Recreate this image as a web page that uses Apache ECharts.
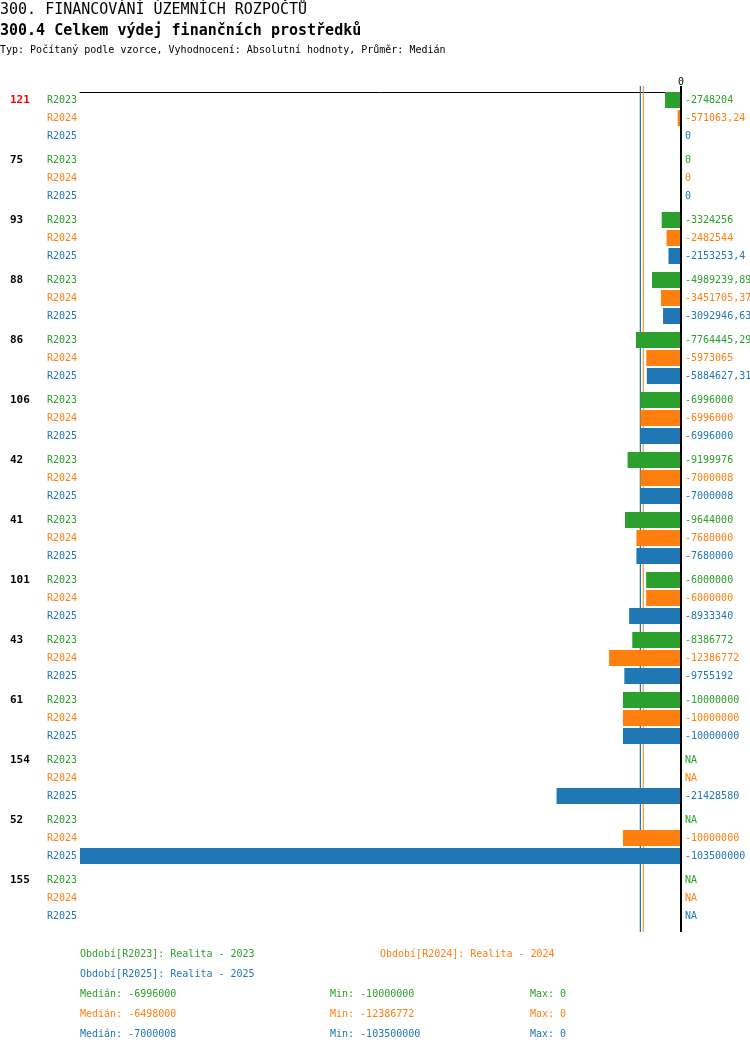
<!DOCTYPE html>
<html lang="cs">
<head>
<meta charset="UTF-8">
<title>300.4 Celkem výdej finančních prostředků</title>
<script src="https://cdn.jsdelivr.net/npm/echarts@6/dist/echarts.min.js"></script>
<style>
  html, body { margin: 0; padding: 0; background: #fff; }
  #chart { width: 750px; height: 1052px; }
</style>
</head>
<body>
<div id="chart"></div>
<script>
// skupiny (ID obce) a hodnoty za jednotlivá období, null = NA
var groupIds = ['121', '75', '93', '88', '86', '106', '42', '41', '101', '43', '61', '154', '52', '155'];
var periods = ['R2023', 'R2024', 'R2025'];
var periodNames = ['Realita - 2023', 'Realita - 2024', 'Realita - 2025'];
var colors = ['#2ca02c', '#ff7f0e', '#1f77b4'];

var r2023 = [-2748204, 0, -3324256, -4989239.89, -7764445.29, -6996000, -9199976, -9644000, -6000000, -8386772, -10000000, null, null, null];
var r2024 = [-571063.24, 0, -2482544, -3451705.37, -5973065, -6996000, -7000008, -7680000, -6000000, -12386772, -10000000, null, -10000000, null];
var r2025 = [0, 0, -2153253.4, -3092946.63, -5884627.31, -6996000, -7000008, -7680000, -8933340, -9755192, -10000000, -21428580, -103500000, null];
var seriesData = [r2023, r2024, r2025];

var xMin = -103500000;
var mono = '"DejaVu Sans Mono", "Liberation Mono", monospace';

function fmt(v) {
    if (v === null) return 'NA';
    return String(v).replace('.', ',');
}

function stats(arr) {
    var v = arr.filter(function(x) { return x !== null; }).sort(function(a, b) { return a - b; });
    var n = v.length;
    var med = n % 2 ? v[(n - 1) / 2] : (v[n / 2 - 1] + v[n / 2]) / 2;
    return { median: med, min: v[0], max: v[n - 1] };
}
var st = seriesData.map(stats);

// svislá čára přes celou výšku grafu
function vline(color, width, z) {
    return {
        type: 'custom',
        silent: true,
        z: z,
        renderItem: function(params, api) {
            var cs = params.coordSys;
            var x = api.coord([api.value(0), 0])[0];
            return {
                type: 'line',
                shape: { x1: x, y1: cs.y - 2, x2: x, y2: cs.y + cs.height + 4 },
                style: { stroke: color, lineWidth: width }
            };
        }
    };
}

var series = [];
// mediány pod sloupci
seriesData.forEach(function(data, k) {
    var s = vline(colors[k], 1, 1);
    s.data = [[st[k].median, 0]];
    series.push(s);
});
// sloupce
seriesData.forEach(function(data, k) {
    series.push({
        type: 'bar',
        name: periods[k],
        data: data,
        barWidth: 16,
        barGap: '12.5%',
        z: 3,
        itemStyle: { color: colors[k] }
    });
});
// nulová osa nad sloupci
var zero = vline('#000', 2, 6);
zero.data = [[0, 0]];
series.push(zero);
// popisky řádků (R2023..) a hodnot
seriesData.forEach(function(data, k) {
    series.push({
        type: 'custom',
        silent: true,
        z: 4,
        data: groupIds.map(function(_, i) { return [0, i]; }),
        renderItem: function(params, api) {
            var g = api.value(1);
            var p = api.coord([0, g]);
            var left = api.coord([xMin, g])[0];
            var y = p[1] + (k - 1) * 18;
            var font = '10px ' + mono;
            return {
                type: 'group',
                children: [{
                    type: 'text',
                    x: left - 33, y: y,
                    style: { text: periods[k], fill: colors[k], font: font, align: 'left', verticalAlign: 'middle' }
                }, {
                    type: 'text',
                    x: p[0] + 4, y: y,
                    style: { text: fmt(data[params.dataIndex]), fill: colors[k], font: font, align: 'left', verticalAlign: 'middle' }
                }]
            };
        }
    });
});

var graphic = [
    { type: 'text', left: 0, top: 3, style: { text: '300. FINANCOVÁNÍ ÚZEMNÍCH ROZPOČTŮ', fill: '#000', font: '15px ' + mono } },
    { type: 'text', left: 0, top: 24, style: { text: '300.4 Celkem výdej finančních prostředků', fill: '#000', font: 'bold 15px ' + mono } },
    { type: 'text', left: 0, top: 45, style: { text: 'Typ: Počítaný podle vzorce, Vyhodnocení: Absolutní hodnoty, Průměr: Medián', fill: '#000', font: '10px ' + mono } }
];
var legendPos = [[80, 954], [380, 954], [80, 974]];
periods.forEach(function(p, k) {
    graphic.push({ type: 'text', x: legendPos[k][0], y: legendPos[k][1],
        style: { text: 'Období[' + p + ']: ' + periodNames[k], fill: colors[k], font: '10px ' + mono, verticalAlign: 'middle' } });
    var y = 994 + k * 20;
    graphic.push({ type: 'text', x: 80, y: y, style: { text: 'Medián: ' + fmt(st[k].median), fill: colors[k], font: '10px ' + mono, verticalAlign: 'middle' } });
    graphic.push({ type: 'text', x: 330, y: y, style: { text: 'Min: ' + fmt(st[k].min), fill: colors[k], font: '10px ' + mono, verticalAlign: 'middle' } });
    graphic.push({ type: 'text', x: 530, y: y, style: { text: 'Max: ' + fmt(st[k].max), fill: colors[k], font: '10px ' + mono, verticalAlign: 'middle' } });
});

var chart = echarts.init(document.getElementById('chart'));
chart.setOption({
    animation: false,
    grid: { left: 80, right: 69, top: 88, height: 840 },
    xAxis: {
        type: 'value',
        position: 'top',
        min: xMin,
        max: 0,
        interval: -xMin,
        offset: -4,
        splitLine: { show: false },
        axisTick: { show: false },
        axisLine: { show: true, lineStyle: { color: '#000', width: 1 } },
        axisLabel: {
            margin: 5,
            color: '#000',
            fontFamily: mono,
            fontSize: 10,
            formatter: function(v) { return v === 0 ? '0' : ''; }
        }
    },
    yAxis: {
        type: 'category',
        data: groupIds,
        inverse: true,
        axisLine: { show: false },
        axisTick: { show: false },
        splitLine: { show: false },
        axisLabel: {
            align: 'left',
            margin: 70,
            padding: [0, 0, 36, 0],
            color: '#000',
            fontFamily: mono,
            fontWeight: 'bold',
            fontSize: 11,
            formatter: function(v, i) { return i === 0 ? '{r|' + v + '}' : v; },
            rich: { r: { color: '#ff0000', fontFamily: mono, fontWeight: 'bold', fontSize: 11 } }
        }
    },
    series: series,
    graphic: graphic
});
</script>
</body>
</html>
